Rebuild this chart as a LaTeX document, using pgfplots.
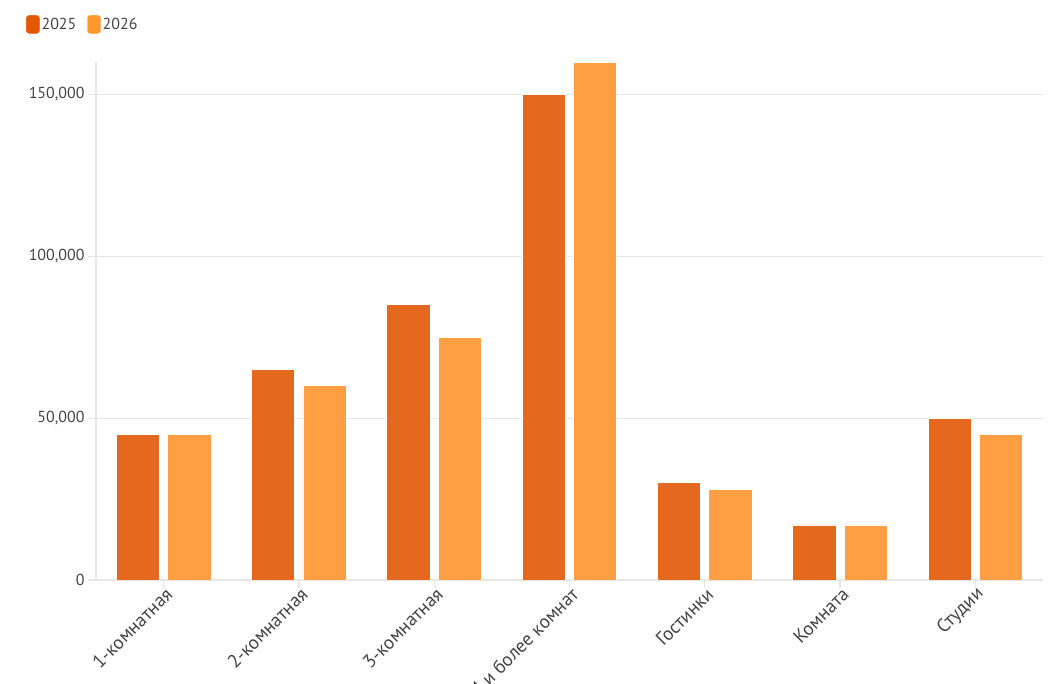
\documentclass[border=0pt]{standalone}
\usepackage{fontspec}
\setmainfont{PT Sans}
\usepackage{pgfplots}
\pgfplotsset{compat=1.18}
\definecolor{c25}{RGB}{228,104,30}
\definecolor{c26}{RGB}{255,158,66}
\definecolor{l25}{RGB}{227,88,0}
\definecolor{l26}{RGB}{255,152,45}
\definecolor{gridc}{RGB}{230,230,230}
\definecolor{txt}{RGB}{68,68,68}
\begin{document}
\begin{tikzpicture}[x=1bp,y=1bp]
\begin{axis}[
 at={(96bp,104bp)}, anchor=south west,
 scale only axis, width=947bp, height=518bp,
 xmin=-0.5, xmax=6.5, ymin=0, ymax=160000,
 axis x line*=bottom, axis y line*=left,
 axis line style={gridc, line width=1.2bp},
 xtick={0,...,6},
 xticklabels={1-комнатная,2-комнатная,3-комнатная,4 и более комнат,Гостинки,Комната,Студии},
 ytick={0,50000,100000,150000},
 yticklabels={0,{50,000},{100,000},{150,000}},
 ymajorgrids, grid style={gridc, line width=1bp},
 tick style={gridc, line width=1.2bp},
 major tick length=8bp, tick align=outside,
 xticklabel style={rotate=45, anchor=east, font=\fontsize{19}{22}\selectfont, text=txt, xshift=5bp, yshift=-6bp},
 yticklabel style={font=\fontsize{16}{19}\selectfont, text=txt},
 scaled y ticks=false,
 legend style={at={(0,1)}, anchor=north west, xshift=-70bp, yshift=47bp,
   draw=none, fill=none, inner sep=0pt, legend columns=-1,
   font=\fontsize{16}{19}\selectfont, text=txt,
   /tikz/every even column/.append style={column sep=9bp}},
 legend cell align=left,
]
\addplot[ybar, bar width=0.32, bar shift=-0.19, fill=c25, draw=white, line width=0.8bp, forget plot]
 coordinates {(0,45000) (1,65000) (2,85000) (3,150000) (4,30000) (5,17000) (6,50000)};
\addplot[ybar, bar width=0.32, bar shift=0.19, fill=c26, draw=white, line width=0.8bp, forget plot]
 coordinates {(0,45000) (1,60000) (2,75000) (3,160000) (4,28000) (5,17000) (6,45000)};
\addlegendimage{legend image code/.code={\fill[l25,rounded corners=3bp] (0bp,-9bp) rectangle (13bp,9bp);}}
\addlegendentry{2025}
\addlegendimage{legend image code/.code={\fill[l26,rounded corners=3bp] (0bp,-9bp) rectangle (13bp,9bp);}}
\addlegendentry{2026}
\end{axis}
\pgfresetboundingbox
\path[use as bounding box] (0,0) rectangle (1060,684);
\end{tikzpicture}
\end{document}
